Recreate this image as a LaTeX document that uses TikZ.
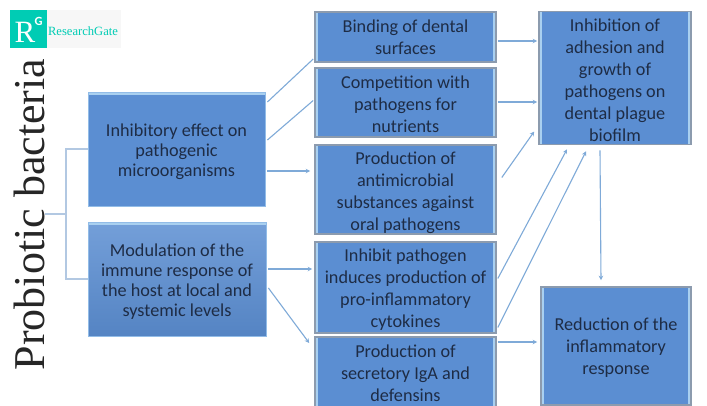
\documentclass[tikz,border=0pt]{standalone}
\usepackage{fontspec}
\setmainfont{Carlito}
\newfontfamily\serfont{Liberation Serif}
\usetikzlibrary{arrows.meta}
\definecolor{boxblue}{HTML}{5B8ED2}
\definecolor{boxlight}{HTML}{A9D0F0}
\definecolor{boxedge}{HTML}{8C9BAE}
\definecolor{inktext}{HTML}{1E2C45}
\definecolor{linkblue}{HTML}{7FAAD8}
\definecolor{stemblue}{HTML}{B2C8E2}
\definecolor{rgteal}{HTML}{00CCB4}
\newcommand{\lowerby}[1]{\rule{0pt}{\dimexpr 13.3pt+#1pt*2\relax}}
\tikzset{
  x=1pt,y=-1pt,
  boxtext/.style={text=inktext,font=\fontsize{18.2}{22}\selectfont,align=center,inner sep=0pt},
  sidebox/.style={boxtext,draw=boxedge,line width=1.6pt,fill=boxblue,
    path picture={
      \fill[boxlight] (path picture bounding box.north west) rectangle ([xshift=3pt]path picture bounding box.south west);
      \fill[boxlight] ([xshift=-3pt]path picture bounding box.north east) rectangle (path picture bounding box.south east);
    }},
  flatbox/.style={boxtext,font=\fontsize{18.2}{20}\selectfont,draw=boxlight!70!boxblue,line width=0.8pt,fill=boxblue,
    path picture={
      \fill[boxlight] (path picture bounding box.north west) rectangle ([yshift=-3pt]path picture bounding box.north east);
    }},
  shadebox/.style={flatbox,fill=none,top color=boxblue!85!white,bottom color=boxblue!93!black},
  link/.style={draw=linkblue,line width=1.1pt},
  arrowlink/.style={link,-{Stealth[length=4.5pt,width=4.5pt]}},
  stem/.style={draw=stemblue,line width=1.4pt},
}
\begin{document}
\begin{tikzpicture}
\useasboundingbox (0,0) rectangle (707,405);
\clip (0,0) rectangle (707,405);
\fill[white] (0,0) rectangle (707,405);

% logo
\fill[black!3] (10,10) rectangle (121,48);
\fill[rgteal] (10,10) rectangle (47,48);
\node[text=white,font=\serfont\fontsize{31}{31}\selectfont,inner sep=0pt] (logoR) at (25,32) {R};
\node[text=white,font=\fontsize{12.5}{12.5}\selectfont\bfseries,inner sep=0pt] (logoG) at (38.5,21) {G};
\node[text=rgteal,font=\serfont\fontsize{12.6}{12.6}\selectfont,inner sep=0pt] (logoT) at (83,31.5) {ResearchGate};

% title
\node[rotate=90,text=black!85,font=\serfont\fontsize{44}{44}\selectfont,inner sep=0pt,anchor=base] (title) at (44,214.5) {Probiotic bacteria};
\coordinate (titleout) at (45,214);

% left boxes
\node[flatbox,minimum width=177pt,minimum height=114pt] (l1) at (176.5,149) {\lowerby{2}Inhibitory effect on\\pathogenic\\microorganisms};
\node[shadebox,minimum width=178pt,minimum height=114pt] (l2) at (177,279) {\lowerby{2}Modulation of the\\immune response of\\the host at local and\\systemic levels};

% middle boxes
\node[sidebox,minimum width=181pt,minimum height=50pt] (m1) at (405.5,37) {Binding of dental\\surfaces};
\node[sidebox,minimum width=181pt,minimum height=69pt] (m2) at (405.5,102.5) {\lowerby{1}Competition with\\pathogens for\\nutrients};
\node[sidebox,minimum width=181pt,minimum height=89pt] (m3) at (405.5,189.5) {\lowerby{3}Production of\\antimicrobial\\substances against\\oral pathogens};
\node[sidebox,minimum width=181pt,minimum height=91pt] (m4) at (405.5,287.5) {\lowerby{2}Inhibit pathogen\\induces production of\\pro-inflammatory\\cytokines};
\node[sidebox,minimum width=181pt,minimum height=72pt] (m5) at (405.5,373) {Production of\\secretory IgA and\\defensins};

% right boxes
\node[sidebox,minimum width=152pt,minimum height=133pt] (r1) at (615,78) {\lowerby{2}Inhibition of\\adhesion and\\growth of\\pathogens on\\dental plague\\biofilm};
\node[sidebox,minimum width=150pt,minimum height=118pt] (r2) at (616,346) {\lowerby{1}Reduction of the\\inflammatory\\response};

% trunk
\coordinate (fork) at (66,214);
\draw[stem] (titleout) -- (fork);
\draw[stem] (l1.west) -| (fork) |- (l2.west);

% connectors
\draw[link] ([shift={(2,-47)}]l1.east) -- ([shift={(-1,22)}]m1.west);
\draw[link] ([shift={(2,-9)}]l1.east) -- ([shift={(-1,-2)}]m2.west);
\draw[arrowlink] ([shift={(2,22)}]l1.east) -- ([shift={(-4,-18.5)}]m3.west);
\draw[arrowlink] ([shift={(2,-10)}]l2.east) -- ([shift={(-2,-18.5)}]m4.west);
\draw[arrowlink] ([shift={(2,9)}]l2.east) -- ([shift={(-5,-30)}]m5.west);
\draw[arrowlink] ([shift={(1,4)}]m1.east) -- ([shift={(-1,-37)}]r1.west);
\draw[arrowlink] ([shift={(1,-0.5)}]m2.east) -- ([shift={(-1,24)}]r1.west);
\draw[arrowlink] ([shift={(5,-12)}]m3.east) -- ([shift={(-4,53.5)}]r1.west);
\draw[arrowlink] ([shift={(1,-9)}]m4.east) -- ([shift={(-48,4)}]r1.south);
\draw[arrowlink] ([shift={(1,40)}]m4.east) -- ([shift={(-29,6)}]r1.south);
\draw[arrowlink] ([shift={(-15,5)}]r1.south) -- ([shift={(-15,-6)}]r2.north);
\draw[arrowlink] ([shift={(1,-31)}]m5.east) -- ([shift={(-3,-4)}]r2.west);
\end{tikzpicture}
\end{document}
